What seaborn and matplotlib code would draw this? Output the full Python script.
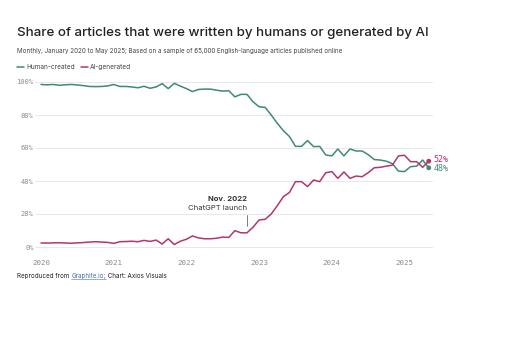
import numpy as np
import pandas as pd
import matplotlib
matplotlib.use("Agg")
import matplotlib.pyplot as plt
import seaborn as sns

# Monthly shares, Jan 2020 .. May 2025
months = pd.date_range("2020-01-01", "2025-05-01", freq="MS")
human_created = [
    98.5, 98.3, 98.5, 98.0, 98.3, 98.5, 98.2, 97.8, 97.3, 97.2, 97.3, 97.6,
    98.5, 97.3, 97.3, 97.0, 96.5, 97.4, 96.2, 97.0, 99.0, 96.0, 99.2, 97.5,
    96.0, 94.2, 95.5, 95.7, 95.7, 95.0, 94.5, 94.7, 91.0, 92.5, 92.5, 88.0,
    85.0, 84.6, 80.0, 75.0, 70.5, 67.0, 61.0, 61.0, 64.5, 60.8, 61.0, 55.8,
    55.2, 59.4, 55.2, 59.4, 58.2, 58.2, 56.0, 53.0, 52.7, 52.0, 50.5, 46.0,
    45.7, 48.7, 49.0, 52.7, 48.0,
]
ai_generated = [
    2.4, 2.4, 2.5, 2.6, 2.4, 2.3, 2.5, 2.7, 3.0, 3.2, 3.0, 2.8,
    2.2, 3.2, 3.3, 3.5, 3.2, 4.0, 3.4, 4.2, 1.8, 5.0, 1.5, 3.5,
    4.7, 6.7, 5.5, 5.0, 5.0, 5.3, 6.0, 5.8, 9.9, 8.6, 8.6, 12.0,
    16.4, 16.8, 20.0, 25.0, 30.5, 33.0, 39.6, 39.6, 36.6, 40.6, 39.6, 45.0,
    45.7, 41.6, 45.5, 41.6, 43.0, 42.6, 45.0, 48.0, 48.3, 49.0, 49.6, 55.2,
    55.6, 51.7, 51.7, 48.3, 52.0,
]
series_names = ["Human-created", "AI-generated"]
year_ticks = [2020, 2021, 2022, 2023, 2024, 2025]
pct_ticks = [0, 20, 40, 60, 80, 100]

GREEN = "#3f8a72"
MAGENTA = "#b3356e"
GRID = "#e8e8e8"
TICK = "#8a8a8a"

df = pd.DataFrame({
    "date": list(months) * 2,
    "share": human_created + ai_generated,
    "series": [series_names[0]] * len(months) + [series_names[1]] * len(months),
})
df["t"] = df["date"].dt.year + (df["date"].dt.month - 1) / 12

sns.set_theme(style="white")
plt.rcParams["font.family"] = ["Inter", "DejaVu Sans"]

fig = plt.figure(figsize=(5.26, 3.5), dpi=100)
ax = fig.add_axes([35 / 526, 1 - 250.3 / 350, (433 - 35) / 526, (250.3 - 78.7) / 350])

sns.lineplot(data=df, x="t", y="share", hue="series", palette=[GREEN, MAGENTA],
             linewidth=1.1, legend=False, ax=ax)

ax.set_xlim(2020 - 6 / 72.7, 2020 + (433 - 41) / 72.7)
ax.set_ylim(-2, 102)
ax.set_xlabel("")
ax.set_ylabel("")
for s in ax.spines.values():
    s.set_visible(False)

ax.set_yticks(pct_ticks)
ax.set_yticklabels([f"{v}%" for v in pct_ticks], family="DejaVu Sans Mono",
                   fontsize=5.1, color=TICK)
ax.set_xticks(year_ticks)
ax.set_xticklabels([str(y) for y in year_ticks], family="DejaVu Sans Mono",
                   fontsize=5.4, color=TICK)
ax.tick_params(axis="y", length=0, pad=1)
ax.tick_params(axis="x", length=3, color="#dddddd", width=0.6, pad=4)
ax.yaxis.grid(True, color=GRID, linewidth=0.7)
ax.set_axisbelow(True)

# end points and labels
t_end = 2025 + 4 / 12
ax.scatter([t_end, t_end], [human_created[-1], ai_generated[-1]],
           color=[GREEN, MAGENTA], s=6, zorder=5, clip_on=False)
ax.text(t_end + 0.07, ai_generated[-1] + 1.3, f"{ai_generated[-1]:.0f}%",
        color=MAGENTA, fontsize=6, va="center", family="DejaVu Sans Mono")
ax.text(t_end + 0.07, human_created[-1] - 0.2, f"{human_created[-1]:.0f}%",
        color=GREEN, fontsize=6, va="center", family="DejaVu Sans Mono")

# ChatGPT annotation
t_gpt = 2022 + 10 / 12
ax.plot([t_gpt, t_gpt], [12.5, 19.5], color="#666666", linewidth=0.6)
ax.text(t_gpt, 29.0, "Nov. 2022", ha="right", va="center", fontsize=5.5,
        fontweight="bold", color="#333333")
ax.text(t_gpt, 23.8, "ChatGPT launch", ha="right", va="center", fontsize=5.5,
        color="#333333")

# titles
fig.text(17 / 526, 1 - 33 / 350, "Share of articles that were written by humans or generated by AI",
         fontsize=9.6, color="#222222", va="center", fontweight="medium")
fig.text(17 / 526, 1 - 51 / 350,
         "Monthly, January 2020 to May 2025; Based on a sample of 65,000 English-language articles published online",
         fontsize=4.5, color="#444444", va="center")

# legend
ly = 1 - 67 / 350
for x0, name, col in [(17, series_names[0], GREEN), (81, series_names[1], MAGENTA)]:
    fig.add_artist(plt.Line2D([x0 / 526, (x0 + 7) / 526], [ly, ly], color=col, linewidth=1.1))
    fig.text((x0 + 9) / 526, ly, name, fontsize=4.7, color="#444444", va="center")

# footer
fy = 1 - 276 / 350
t1 = fig.text(17 / 526, fy, "Reproduced from ", fontsize=4.5, color="#222222", va="center")
fig.canvas.draw()
bb = t1.get_window_extent()
t2 = fig.text(bb.x1 / 526, fy, "Graphite.io;", fontsize=4.5, color="#4a6fb5", va="center")
fig.canvas.draw()
bb2 = t2.get_window_extent()
fig.add_artist(plt.Line2D([bb2.x0 / 526, bb2.x1 / 526], [(bb2.y0 + 0.3) / 350] * 2,
                          color="#4a6fb5", linewidth=0.4))
fig.text(bb2.x1 / 526, fy, " Chart: Axios Visuals", fontsize=4.5, color="#222222", va="center")

fig.savefig("out.png", dpi=100)
